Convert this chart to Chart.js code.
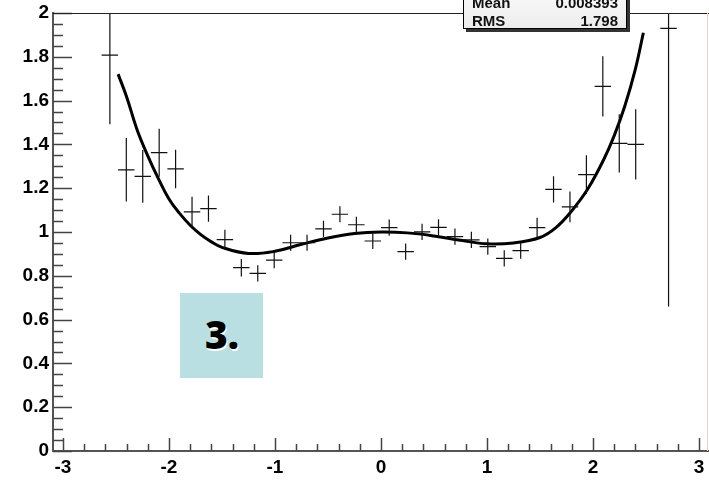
<!DOCTYPE html>
<html>
<head>
<meta charset="utf-8">
<script src="https://cdn.jsdelivr.net/npm/chart.js@4.4.1/dist/chart.umd.min.js"></script>
<style>
  html, body { margin: 0; padding: 0; background: #fff; overflow: hidden; }
  #wrap { position: relative; width: 709px; height: 485px; }
  #histChart { position: absolute; left: 0; top: 0; }
  .stats {
    position: absolute; left: 463px; top: -12px; width: 162px; height: 39px;
    background: linear-gradient(#fbfbfb, #ececec);
    border: 1.5px solid #000;
    box-shadow: 3px 3px 0 #333;
    font: bold 15px "Liberation Sans", Arial, sans-serif; color: #111;
  }
  .stats .row { position: absolute; left: 8px; right: 8px; height: 18px; line-height: 18px; }
  .stats .row span:last-child { position: absolute; right: 0; }
  .tag {
    position: absolute; left: 180px; top: 293px; width: 83px; height: 85px;
    background: #b9dfe3;
    display: flex; align-items: center; justify-content: center;
    font: 800 39px "Open Sans", Lato, sans-serif; color: #000;
    text-shadow: 1px 2px 0 #fff;
    box-sizing: border-box; padding-bottom: 4px; padding-left: 1px;
  }
</style>
</head>
<body>
<div id="wrap">
  <canvas id="histChart" width="709" height="485"></canvas>
  <div class="stats" id="stats"></div>
  <div class="tag">3.</div>
</div>
<script>
// Histogram bins (centres, contents, errors)
const binWidth = 0.155;
const binCenters = [-2.5575, -2.4025, -2.2475, -2.0925, -1.9375, -1.7825, -1.6275, -1.4725,
    -1.3175, -1.1625, -1.0075, -0.8525, -0.6975, -0.5425, -0.3875, -0.2325, -0.0775,
    0.0775, 0.2325, 0.3875, 0.5425, 0.6975, 0.8525, 1.0075, 1.1625, 1.3175, 1.4725,
    1.6275, 1.7825, 1.9375, 2.0925, 2.2475, 2.4025, 2.7125];
const binValues = [1.808, 1.284, 1.254, 1.362, 1.288, 1.092, 1.107, 0.965,
    0.837, 0.811, 0.872, 0.951, 0.951, 1.014, 1.081, 1.033, 0.959,
    1.020, 0.910, 1.001, 1.021, 0.979, 0.964, 0.933, 0.880, 0.915, 1.020,
    1.195, 1.115, 1.262, 1.665, 1.405, 1.400, 1.930];
const binErrors = [0.316, 0.145, 0.120, 0.110, 0.088, 0.069, 0.060, 0.045,
    0.040, 0.037, 0.037, 0.037, 0.037, 0.037, 0.037, 0.037, 0.037,
    0.037, 0.037, 0.037, 0.037, 0.037, 0.037, 0.037, 0.037, 0.037, 0.045,
    0.060, 0.070, 0.088, 0.138, 0.133, 0.160, 1.270];

// Fitted polynomial, sampled
const fitX = [-2.48, -2.4, -2.3, -2.2, -2.1, -2.0, -1.9, -1.8, -1.7, -1.6, -1.5, -1.25,
    -1.0, -0.75, -0.5, -0.25, 0.0, 0.25, 0.5, 0.75, 1.0, 1.25, 1.5, 1.65, 1.8, 1.95,
    2.1, 2.2, 2.3, 2.4, 2.475];
const fitY = [1.721, 1.618, 1.466, 1.348, 1.244, 1.151, 1.085, 1.031, 0.988, 0.955, 0.930, 0.902,
    0.912, 0.944, 0.973, 0.993, 1.000, 0.996, 0.982, 0.962, 0.946, 0.950, 0.975, 1.020, 1.097, 1.196,
    1.330, 1.440, 1.575, 1.745, 1.910];

const xTickValues = [-3, -2, -1, 0, 1, 2, 3];
const xTickLabels = ['-3', '-2', '-1', '0', '1', '2', '3'];
const yTickValues = [0, 0.2, 0.4, 0.6, 0.8, 1, 1.2, 1.4, 1.6, 1.8, 2];
const yTickLabels = ['0', '0.2', '0.4', '0.6', '0.8', '1', '1.2', '1.4', '1.6', '1.8', '2'];

const statNames = ['Mean', 'RMS'];
const statValues = ['0.008393', '1.798'];

const statsBox = document.getElementById('stats');
statNames.forEach((name, i) => {
    const row = document.createElement('div');
    row.className = 'row';
    row.style.top = (4.5 + i * 18) + 'px';
    row.innerHTML = '<span>' + name + '</span><span>' + statValues[i] + '</span>';
    statsBox.appendChild(row);
});

const axisFont = { family: '"Liberation Sans", Arial, sans-serif', size: 19, weight: 'bold' };

// crosses: horizontal bar over the bin width, vertical bar for the error
const errorBars = {
    id: 'errorBars',
    afterDatasetsDraw(chart) {
        const { ctx, chartArea, scales: { x, y } } = chart;
        ctx.save();
        ctx.beginPath();
        ctx.rect(chartArea.left, chartArea.top, chartArea.right - chartArea.left, chartArea.bottom - chartArea.top);
        ctx.clip();
        ctx.strokeStyle = '#111';
        ctx.lineWidth = 1.2;
        binCenters.forEach((c, i) => {
            const px = x.getPixelForValue(c);
            const py = y.getPixelForValue(binValues[i]);
            ctx.beginPath();
            ctx.moveTo(x.getPixelForValue(c - binWidth / 2), py);
            ctx.lineTo(x.getPixelForValue(c + binWidth / 2), py);
            ctx.moveTo(px, y.getPixelForValue(binValues[i] + binErrors[i]));
            ctx.lineTo(px, y.getPixelForValue(binValues[i] - binErrors[i]));
            ctx.stroke();
        });
        ctx.restore();
    }
};

// inward major/minor tick marks and the frame top
const rootAxes = {
    id: 'rootAxes',
    afterDraw(chart) {
        const { ctx, chartArea, scales: { x, y } } = chart;
        ctx.save();
        ctx.strokeStyle = '#444';
        ctx.lineWidth = 1.5;
        ctx.beginPath();
        for (let v = 0; v <= 2.0001; v += 0.05) {
            const py = Math.round(y.getPixelForValue(v)) + 0.5;
            const major = Math.abs(v / 0.2 - Math.round(v / 0.2)) < 1e-6;
            ctx.moveTo(chartArea.left, py);
            ctx.lineTo(chartArea.left + (major ? 19 : 10), py);
        }
        for (let v = -3; v <= 3.0001; v += 0.2) {
            const px = Math.round(x.getPixelForValue(v)) + 0.5;
            const major = Math.abs(v - Math.round(v)) < 1e-6;
            ctx.moveTo(px, chartArea.bottom);
            ctx.lineTo(px, chartArea.bottom - (major ? 13 : 7));
        }
        ctx.stroke();
        ctx.strokeStyle = '#222';
        ctx.lineWidth = 1;
        ctx.beginPath();
        ctx.moveTo(chartArea.left, chartArea.top + 0.5);
        ctx.lineTo(chartArea.right, chartArea.top + 0.5);
        ctx.stroke();
        ctx.strokeStyle = '#f6caca';
        ctx.beginPath();
        ctx.moveTo(chartArea.right - 1.5, chartArea.top);
        ctx.lineTo(chartArea.right - 1.5, chartArea.bottom);
        ctx.stroke();
        ctx.restore();
    }
};

new Chart(document.getElementById('histChart'), {
    type: 'scatter',
    data: {
        datasets: [{
            label: 'data',
            data: binCenters.map((c, i) => ({ x: c, y: binValues[i] })),
            pointRadius: 0,
            showLine: false
        }, {
            type: 'line',
            label: 'fit',
            data: fitX.map((v, i) => ({ x: v, y: fitY[i] })),
            borderColor: '#000',
            borderWidth: 3,
            pointRadius: 0,
            tension: 0.4,
            fill: false
        }]
    },
    options: {
        responsive: false,
        animation: false,
        devicePixelRatio: 1,
        layout: { padding: { top: 13, right: 0, left: 0, bottom: 0 } },
        plugins: {
            legend: { display: false },
            tooltip: { enabled: false }
        },
        scales: {
            x: {
                type: 'linear',
                min: -3.094,
                max: 3.094,
                grid: { display: false, drawTicks: false },
                border: { display: true, color: '#555', width: 2 },
                ticks: {
                    font: axisFont,
                    color: '#000',
                    padding: 5,
                    maxRotation: 0,
                    autoSkip: false,
                    callback: (v, i) => xTickLabels[i]
                },
                afterBuildTicks: s => { s.ticks = xTickValues.map(v => ({ value: v })); },
                afterFit: s => {
                    s.height = 34;
                    s.paddingLeft = 0;
                    s.paddingRight = 0;
                }
            },
            y: {
                type: 'linear',
                min: 0,
                max: 2,
                grid: { display: false, drawTicks: false },
                border: { display: true, color: '#555', width: 2 },
                ticks: {
                    font: axisFont,
                    color: '#000',
                    padding: 4,
                    autoSkip: false,
                    callback: (v, i) => yTickLabels[i]
                },
                afterBuildTicks: s => { s.ticks = yTickValues.map(v => ({ value: v })); },
                afterFit: s => {
                    s.width = 53;
                    s.paddingTop = 0;
                    s.paddingBottom = 0;
                }
            }
        }
    },
    plugins: [errorBars, rootAxes]
});
</script>
</body>
</html>
